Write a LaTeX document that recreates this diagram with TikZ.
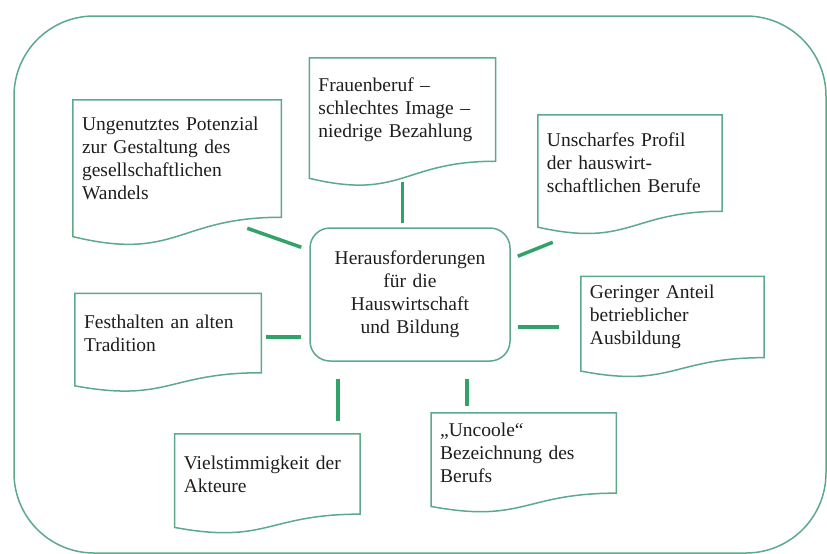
\documentclass[tikz,border=0pt]{standalone}
\usepackage{fontspec}
\setmainfont{Liberation Serif}
\usepackage{xcolor}
\usepackage{tikz}
\usetikzlibrary{positioning, calc}
\definecolor{linegreen}{RGB}{92,170,138}
\definecolor{linkgreen}{RGB}{50,163,104}
\definecolor{inkgray}{RGB}{30,30,30}
\tikzstyle{paper} = [rectangle, inner xsep=9pt, inner ysep=3pt, align=left, text=inkgray, font=\fontsize{19.5}{23}\selectfont]
\tikzstyle{hubbox} = [rectangle, rounded corners=20pt, draw=linegreen, line width=1.5pt, inner xsep=9pt, text width=182pt, minimum height=133pt, align=center, text=inkgray, font=\fontsize{19.5}{23}\selectfont]
\tikzstyle{paperline} = [draw=linegreen, line width=1.5pt]
\tikzstyle{link} = [draw=linkgreen, line width=3.5pt]
\tikzstyle{frame} = [draw=linegreen, line width=1.5pt, rounded corners=80pt]

% sheet with wavy lower edge round a node
\newcommand{\paperoutline}[1]{%
  \draw[paperline] let \p1=(#1.north west), \p2=(#1.south east), \n1={(\y1-\y2)*0.165} in
    (#1.north west) -- (#1.north east) -- (#1.south east)
    .. controls (#1.south) and ([yshift=-2.3*\n1]#1.south) .. ([yshift=-\n1]#1.south west) -- cycle;}

\begin{document}
\begin{tikzpicture}[x=1pt, y=1pt]
            \useasboundingbox (0,0) rectangle (827,-554);
            \draw[frame] (14,-16) rectangle (826,-553);

            \node[hubbox] (hub) at (410,-294.5) {Herausforderungen\\für die\\Hauswirtschaft\\und Bildung};

            \node[paper, text width=168pt, minimum height=103pt, above=66pt of hub.north west, anchor=south west] (frauen) {Frauenberuf –\\schlechtes Image –\\niedrige Bezahlung};
            \node[paper, text width=190pt, minimum height=117pt, above left=10pt and 28pt of hub.north west] (ungenutzt) {Ungenutztes Potenzial\\zur Gestaltung des\\gesellschaftlichen\\Wandels};
            \node[paper, text width=166pt, minimum height=96pt, above right=16pt and 27pt of hub.north east] (unscharf) {Unscharfes Profil\\der hauswirt-\\schaftlichen Berufe};
            \node[paper, text width=168pt, minimum height=79pt, below left=11pt and 48pt of hub.south west, anchor=south east] (festhalten) {Festhalten an alten\\Tradition};
            \node[paper, text width=165pt, minimum height=81pt, below right=49pt and 70pt of hub.north east] (geringer) {Geringer Anteil\\betrieblicher\\Ausbildung};
            \node[paper, text width=167pt, minimum height=80pt, below right=51pt and 21pt of hub.south] (uncoole) {„Uncoole“\\Bezeichnung des\\Berufs};
            \node[paper, text width=167pt, minimum height=80pt, below left=72pt and 50pt of hub.south] (viel) {Vielstimmigkeit der\\Akteure};

            \foreach \doc in {frauen, ungenutzt, unscharf, festhalten, geringer, uncoole, viel}
                \paperoutline{\doc};

            \draw[link] ([shift={(-34pt,-11pt)}]ungenutzt.south east) -- ([shift={(-8pt,-20pt)}]hub.north west);
            \draw[link] ([yshift=-21pt]frauen.south) -- ([yshift=4pt]frauen.south |- hub.north);
            \draw[link] ([shift={(15pt,-31pt)}]unscharf.south west) -- ([shift={(7pt,-29pt)}]hub.north east);
            \draw[link] ([shift={(5pt,-4pt)}]festhalten.east) -- ([shift={(-8pt,-4pt)}]hub.west |- festhalten.east);
            \draw[link] ([shift={(-22pt,-10pt)}]geringer.west) -- ([shift={(7pt,-10pt)}]hub.east |- geringer.west);
            \draw[link] ([shift={(-22pt,13pt)}]viel.north east) -- ([shift={(-22pt,-17pt)}]viel.north east |- hub.south);
            \draw[link] ([shift={(36pt,7pt)}]uncoole.north west) -- ([shift={(36pt,-17pt)}]uncoole.north west |- hub.south);
        \end{tikzpicture}
\end{document}
